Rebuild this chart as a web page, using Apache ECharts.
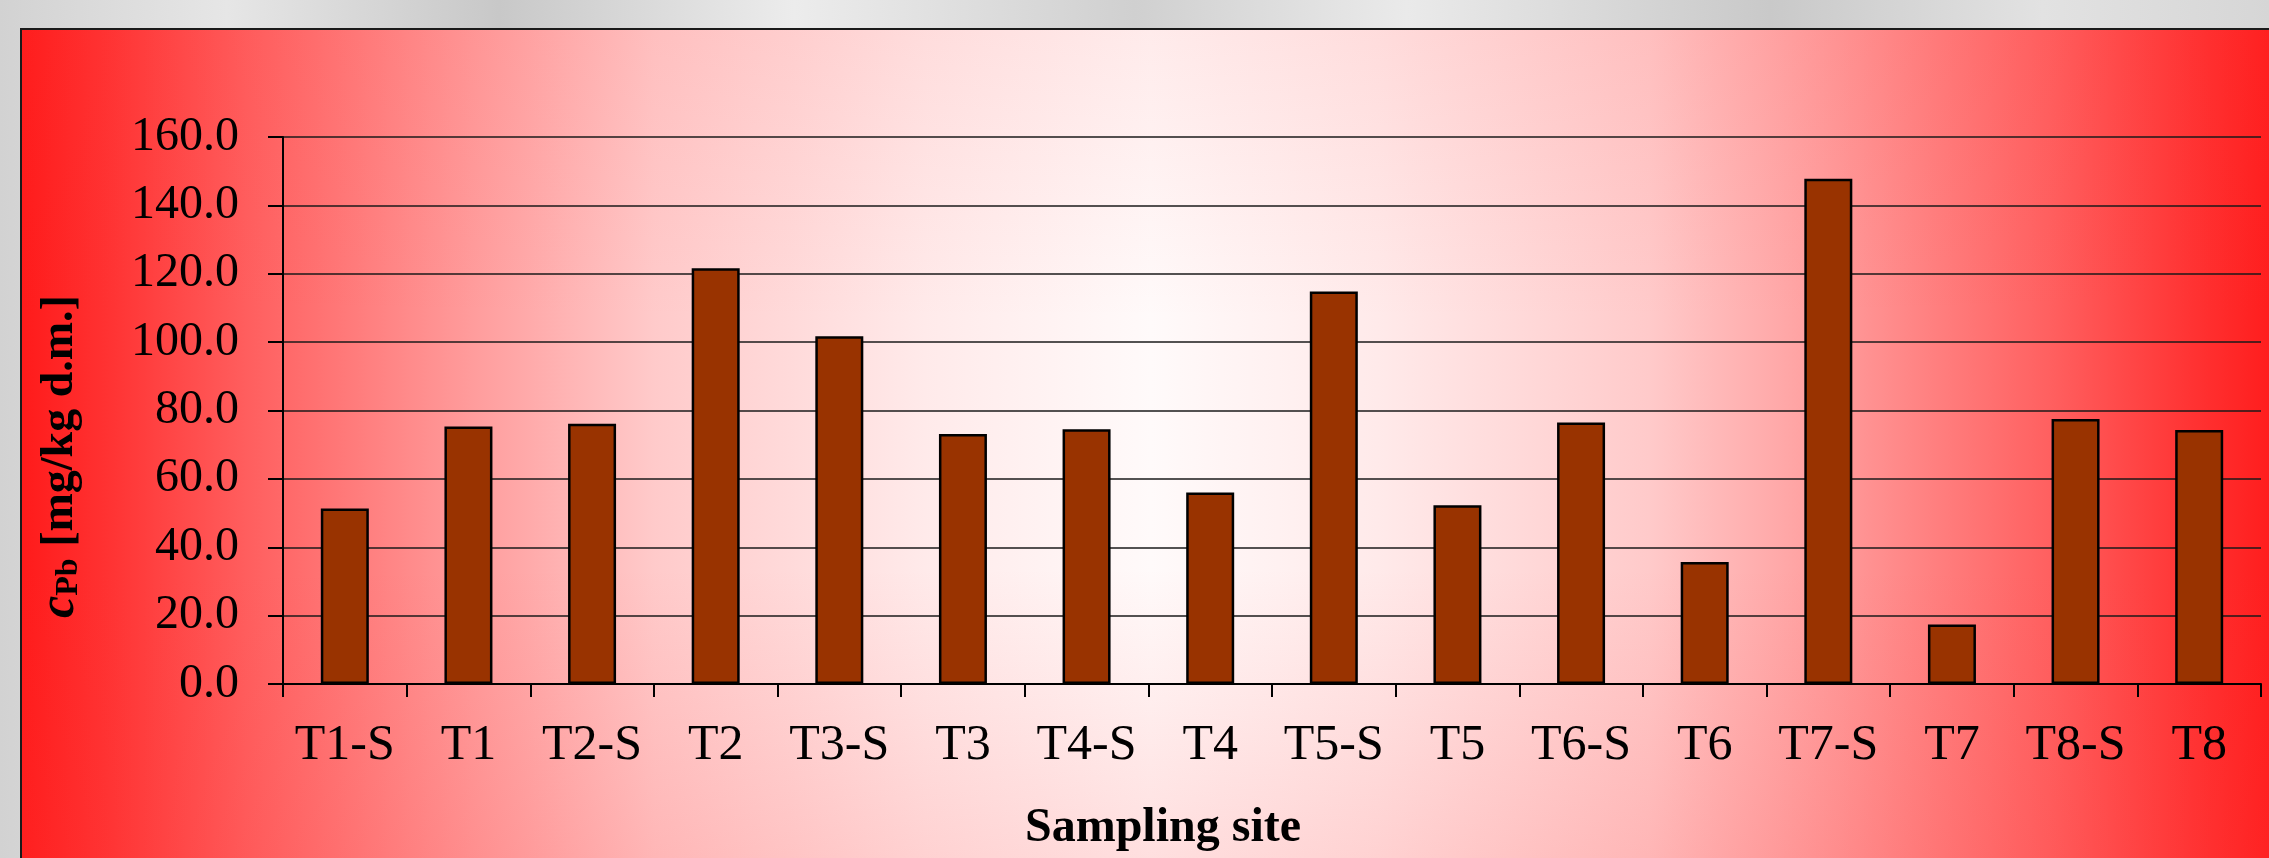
<!DOCTYPE html>
<html>
<head>
<meta charset="utf-8">
<script src="https://cdn.jsdelivr.net/npm/echarts@6/dist/echarts.min.js"></script>
<style>
  html, body { margin: 0; padding: 0; }
  #chart { width: 2269px; height: 858px; }
</style>
</head>
<body>
<div id="chart"></div>
<script>
// Pb content per sampling site
const sites = ['T1-S', 'T1', 'T2-S', 'T2', 'T3-S', 'T3', 'T4-S', 'T4', 'T5-S', 'T5', 'T6-S', 'T6', 'T7-S', 'T7', 'T8-S', 'T8'];
const leadValues = [51.3, 75.3, 76.1, 121.6, 101.7, 73.1, 74.5, 56.0, 114.8, 52.3, 76.5, 35.7, 147.8, 17.4, 77.5, 74.3];
const yMin = 0;
const yMax = 160;
const yStep = 20;

const font = "'Liberation Serif', 'Times New Roman', serif";

const chart = echarts.init(document.getElementById('chart'));

const redFade = new echarts.graphic.LinearGradient(0, 0, 1, 0, [
  { offset: 0, color: '#ff1a1a' },
  { offset: 0.04, color: '#ff3333' },
  { offset: 0.1, color: '#ff5e5e' },
  { offset: 0.2, color: '#ff9c9c' },
  { offset: 0.28, color: '#ffcaca' },
  { offset: 0.4, color: '#ffeaea' },
  { offset: 0.5, color: '#fffafa' },
  { offset: 0.6, color: '#ffeaea' },
  { offset: 0.72, color: '#ffcaca' },
  { offset: 0.8, color: '#ff9c9c' },
  { offset: 0.9, color: '#ff5e5e' },
  { offset: 0.96, color: '#ff3333' },
  { offset: 1, color: '#ff1a1a' }
]);

const pinkVeil = new echarts.graphic.LinearGradient(0, 0, 0, 1, [
  { offset: 0, color: 'rgba(255,60,60,0.08)' },
  { offset: 0.35, color: 'rgba(255,60,60,0)' },
  { offset: 0.65, color: 'rgba(255,60,60,0)' },
  { offset: 1, color: 'rgba(255,60,60,0.14)' }
]);

const marble = new echarts.graphic.LinearGradient(0, 0, 1, 0, [
  { offset: 0, color: '#d2d2d2' },
  { offset: 0.1, color: '#e6e6e6' },
  { offset: 0.22, color: '#c8c8c8' },
  { offset: 0.35, color: '#ececec' },
  { offset: 0.5, color: '#d0d0d0' },
  { offset: 0.62, color: '#eaeaea' },
  { offset: 0.78, color: '#c9c9c9' },
  { offset: 0.9, color: '#e2e2e2' },
  { offset: 1, color: '#d6d6d6' }
]);

chart.setOption({
  backgroundColor: 'transparent',
  animation: false,
  graphic: [
    { type: 'rect', z: -30, silent: true, shape: { x: 0, y: 0, width: 2269, height: 858 }, style: { fill: marble } },
    { type: 'rect', z: -20, silent: true, shape: { x: 21, y: 29, width: 2260, height: 840 }, style: { fill: redFade, stroke: '#1a1a1a', lineWidth: 2 } },
    { type: 'rect', z: -19, silent: true, shape: { x: 22, y: 30, width: 2247, height: 828 }, style: { fill: pinkVeil } }
  ],
  grid: { left: 283, right: 8, top: 137, bottom: 172 },
  xAxis: {
    type: 'category',
    data: sites,
    name: 'Sampling site',
    nameLocation: 'middle',
    nameGap: 121,
    nameTextStyle: { fontFamily: font, fontSize: 48, fontWeight: 'bold', color: '#000', padding: [0, 218, 0, 0] },
    axisLine: { lineStyle: { color: '#000', width: 2 } },
    axisTick: { show: true, length: 13, lineStyle: { color: '#000', width: 2 } },
    axisLabel: { interval: 0, fontFamily: font, fontSize: 50, color: '#000', margin: 37 },
    splitLine: { show: false }
  },
  yAxis: {
    type: 'value',
    min: yMin,
    max: yMax,
    interval: yStep,
    name: '{c|c}{sub|Pb}{u| [mg/kg d.m.]}',
    nameLocation: 'middle',
    nameRotate: 90,
    nameGap: 198,
    nameTextStyle: {
      fontFamily: font, fontSize: 46, fontWeight: 'bold', color: '#000',
      padding: [0, 92, 0, 0],
      rich: {
        c: { fontFamily: font, fontSize: 50, fontStyle: 'italic', fontWeight: 'bold', color: '#000' },
        sub: { fontFamily: font, fontSize: 32, fontWeight: 'bold', color: '#000', verticalAlign: 'bottom', padding: [14, 0, 0, 0] },
        u: { fontFamily: font, fontSize: 46, fontWeight: 'bold', color: '#000' }
      }
    },
    axisLine: { show: true, lineStyle: { color: '#000', width: 2 } },
    axisTick: { show: true, length: 15, lineStyle: { color: '#000', width: 2 } },
    axisLabel: { fontFamily: font, fontSize: 48, color: '#000', margin: 44, formatter: v => v.toFixed(1) },
    splitLine: { lineStyle: { color: '#1a1a1a', width: 1.5 } }
  },
  series: [{
    type: 'bar',
    data: leadValues,
    barWidth: 48,
    itemStyle: { color: '#993300', borderColor: '#000', borderWidth: 2.5 }
  }]
});
</script>
</body>
</html>
